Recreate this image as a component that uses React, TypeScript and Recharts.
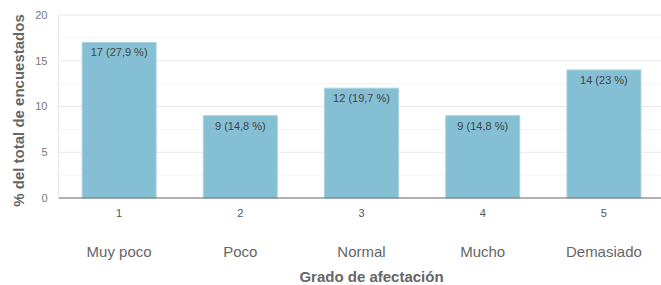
import { BarChart, Bar, XAxis, YAxis, CartesianGrid, LabelList } from 'recharts';

const levels = ['1', '2', '3', '4', '5'];
const levelNames = ['Muy poco', 'Poco', 'Normal', 'Mucho', 'Demasiado'];
const counts = [17, 9, 12, 9, 14];
const shares = ['27,9', '14,8', '19,7', '14,8', '23'];
const yTicks = [0, 5, 10, 15, 20];
const minorLines = [2.5, 7.5, 12.5, 17.5];

const data = levels.map((level, i) => ({
  level,
  name: levelNames[i],
  count: counts[i],
  label: `${counts[i]} (${shares[i]} %)`,
}));

const FONT = '"Liberation Sans", Arial, Helvetica, sans-serif';

const LevelTick = (props: any) => {
  const { x, y, payload, index } = props;
  return (
    <g>
      <text x={x} y={y + 7} textAnchor="middle" dominantBaseline="central" fontSize={11} fill="#555" fontFamily={FONT}>
        {payload.value}
      </text>
      <text x={x} y={y + 45} textAnchor="middle" dominantBaseline="central" fontSize={15} fill="#666" fontFamily={FONT}>
        {levelNames[index]}
      </text>
    </g>
  );
};

const XTitle = (props: any) => {
  const vb = props.viewBox;
  return (
    <text x={vb.x + vb.width / 2 + 10} y={vb.y + 78} textAnchor="middle" dominantBaseline="central" fontSize={15} fontWeight="bold" fill="#666" fontFamily={FONT}>
      Grado de afectación
    </text>
  );
};

const YTitle = (props: any) => {
  const vb = props.viewBox;
  const cx = 18;
  const cy = vb.y + vb.height / 2 + 4;
  return (
    <text x={cx} y={cy} transform={`rotate(-90 ${cx} ${cy})`} textAnchor="middle" dominantBaseline="central" fontSize={15} fontWeight="bold" fill="#666" fontFamily={FONT}>
      % del total de encuestados
    </text>
  );
};

const BarLabel = (props: any) => {
  const { x, y, width, value } = props;
  return (
    <text x={x + width / 2} y={y + 10} textAnchor="middle" dominantBaseline="central" fontSize={11} fill="#444" fontFamily={FONT}>
      {value}
    </text>
  );
};

export default function App() {
  return (
    <div style={{ position: 'absolute', left: 0, top: 0, width: 661, height: 285, overflow: 'hidden', background: '#fff' }}>
      <BarChart width={670} height={285} data={data} margin={{ top: 15, right: 5.5, bottom: 0, left: 0 }} barCategoryGap="19.5%">
        <CartesianGrid vertical={false} horizontalValues={minorLines} stroke="#f4f4f4" />
        <CartesianGrid vertical={false} horizontalValues={yTicks.slice(1)} stroke="#e8e8e8" />
        <XAxis
          dataKey="level"
          height={87}
          interval={0}
          tickLine={false}
          axisLine={{ stroke: '#666' }}
          tick={<LevelTick />}
          label={<XTitle />}
        />
        <YAxis
          width={58.5}
          domain={[0, 20]}
          ticks={yTicks}
          tickLine={false}
          tickMargin={5}
          axisLine={{ stroke: '#e6e6e6' }}
          tick={{ fontSize: 11, fill: '#777', fontFamily: FONT }}
          label={<YTitle />}
        />
        <Bar dataKey="count" fill="#84bfd3" stroke="#a9d3e1" strokeWidth={1} isAnimationActive={false}>
          <LabelList dataKey="label" content={<BarLabel />} />
        </Bar>
      </BarChart>
    </div>
  );
}
